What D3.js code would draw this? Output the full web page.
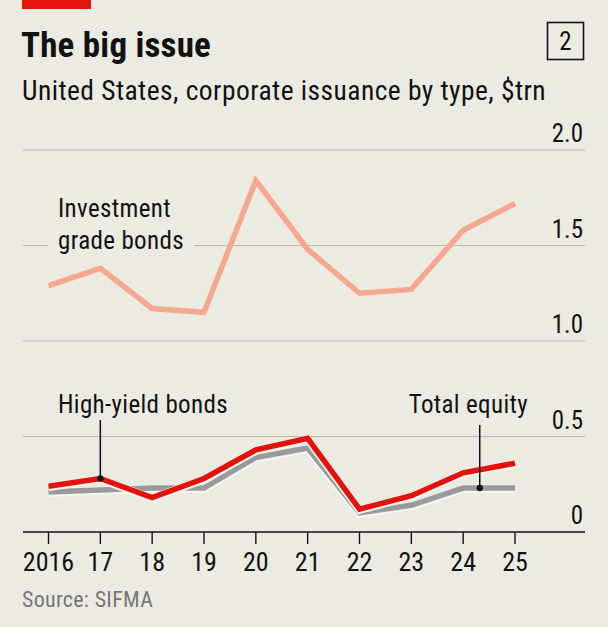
<!DOCTYPE html>
<html><head><meta charset="utf-8">
<script src="https://cdn.jsdelivr.net/npm/d3@7"></script>
<style>
html,body{margin:0;padding:0;background:#ecebe2;}
svg{display:block;}
text{font-family:"Liberation Sans Narrow","Arial Narrow","Roboto Condensed","DejaVu Sans Condensed",sans-serif;fill:#121212;}
</style></head>
<body>
<svg id="chart" width="608" height="627"></svg>
<script>
const years = [2016,2017,2018,2019,2020,2021,2022,2023,2024,2025];
const yearLabels = ["2016","17","18","19","20","21","22","23","24","25"];
const investmentGrade = [1.29,1.38,1.17,1.15,1.84,1.48,1.25,1.27,1.58,1.72];
const highYield = [0.24,0.28,0.18,0.28,0.43,0.49,0.12,0.19,0.31,0.36];
const totalEquity = [0.21,0.22,0.23,0.23,0.39,0.44,0.10,0.14,0.23,0.23];
const yTicks = [0,0.5,1.0,1.5,2.0];
const yTickLabels = ["0","0.5","1.0","1.5","2.0"];

const svg = d3.select("#chart");
const bg = "#ecebe2";
svg.append("rect").attr("width",608).attr("height",627).attr("fill",bg);

const x = d3.scaleLinear().domain([2016,2025]).range([48.5,515]);
const y = d3.scaleLinear().domain([0,2]).range([532,150]);

// header
svg.append("rect").attr("x",22).attr("y",0).attr("width",69).attr("height",9).attr("fill","#e3120b");
svg.append("text").attr("x",21).attr("y",57).attr("font-size",35).attr("font-weight","bold").style("letter-spacing","0.2px").text("The big issue");
svg.append("rect").attr("x",547.5).attr("y",22.5).attr("width",36).attr("height",37).attr("fill","none").attr("stroke","#121212").attr("stroke-width",1.6);
svg.append("text").attr("x",565.5).attr("y",50).attr("text-anchor","middle").attr("font-size",25).text("2");
svg.append("text").attr("x",22).attr("y",100).attr("font-size",27.5).style("letter-spacing","0.45px").text("United States, corporate issuance by type, $trn");

// gridlines
const grid = svg.append("g");
grid.selectAll("line").data(yTicks.filter(d=>d>0)).join("line")
  .attr("x1",23).attr("x2",585).attr("y1",d=>y(d)).attr("y2",d=>y(d))
  .attr("stroke","#b9b8b0").attr("stroke-width",1.2);
svg.append("g").selectAll("text").data(yTicks).join("text")
  .attr("x",583).attr("y",(d)=>y(d)-8).attr("text-anchor","end").attr("font-size",25)
  .text((d,i)=>yTickLabels[i]);

// Investment grade label with background
const igLabel = svg.append("g");
const igBg = igLabel.append("rect").attr("fill",bg);
const igT = igLabel.append("text").attr("x",58).attr("y",217).attr("font-size",25).style("letter-spacing","0.35px");
igT.append("tspan").attr("x",58).attr("dy",0).text("Investment");
igT.append("tspan").attr("x",58).attr("dy",32).text("grade bonds");
const bb = igT.node().getBBox();
igBg.attr("x",bb.x-10).attr("y",bb.y).attr("width",bb.width+20).attr("height",bb.height);

// x axis
svg.append("line").attr("x1",23).attr("x2",585).attr("y1",y(0)).attr("y2",y(0)).attr("stroke","#121212").attr("stroke-width",1.6);
svg.append("g").selectAll("line").data(years).join("line")
  .attr("x1",d=>x(d)).attr("x2",d=>x(d)).attr("y1",y(0)).attr("y2",y(0)+12)
  .attr("stroke","#121212").attr("stroke-width",1.4);
svg.append("g").selectAll("text").data(years).join("text")
  .attr("x",d=>x(d)).attr("y",571).attr("text-anchor","middle").attr("font-size",26)
  .text((d,i)=>yearLabels[i]);

// lines
const line = d3.line().x((d,i)=>x(years[i])).y(d=>y(d)).curve(d3.curveLinear);
function drawLine(data,color,w,halo){
  if(halo){
    svg.append("path").attr("d",line(data)).attr("fill","none").attr("stroke","#f7f6f0")
      .attr("stroke-width",w+2.5).attr("stroke-linejoin","miter").attr("transform","translate(0,0.8)");
  }
  svg.append("path").attr("d",line(data)).attr("fill","none").attr("stroke",color)
    .attr("stroke-width",w).attr("stroke-linejoin","miter");
}
drawLine(investmentGrade,"#f5a88f",5.5,false);
drawLine(totalEquity,"#999a9c",5.5,true);
drawLine(highYield,"#e3120b",5.5,true);

// annotations
svg.append("text").attr("x",58).attr("y",413).attr("font-size",25).style("letter-spacing","0.35px").text("High-yield bonds");
svg.append("line").attr("x1",x(2017)).attr("x2",x(2017)).attr("y1",420).attr("y2",y(highYield[1]))
  .attr("stroke","#121212").attr("stroke-width",1.5);
svg.append("circle").attr("cx",x(2017)).attr("cy",y(highYield[1])).attr("r",3.2).attr("fill","#121212");

const teX = 2024.32;
const teY = totalEquity[8] + (totalEquity[9]-totalEquity[8])*0.32;
svg.append("text").attr("x",528).attr("y",413).attr("text-anchor","end").attr("font-size",25).style("letter-spacing","0.35px").text("Total equity");
svg.append("line").attr("x1",x(teX)).attr("x2",x(teX)).attr("y1",425).attr("y2",y(teY))
  .attr("stroke","#121212").attr("stroke-width",1.5);
svg.append("circle").attr("cx",x(teX)).attr("cy",y(teY)).attr("r",3.2).attr("fill","#121212");

// source
svg.append("text").attr("x",22).attr("y",607).attr("font-size",22).style("letter-spacing","0.3px").style("fill","#767676").text("Source: SIFMA");
</script>
</body></html>
